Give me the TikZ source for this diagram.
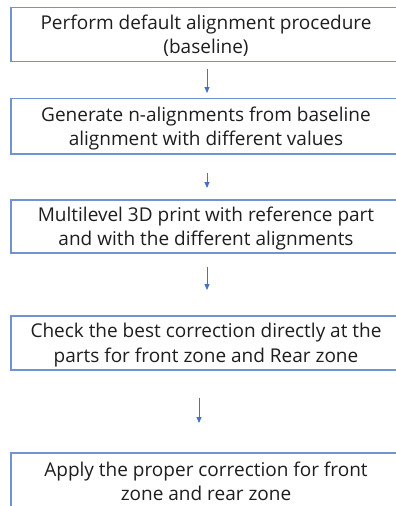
\documentclass[tikz,border=0pt]{standalone}
\usepackage{fontspec}
\setmainfont{Open Sans}
\usetikzlibrary{arrows.meta}
\definecolor{boxblue}{RGB}{114,147,209}
\definecolor{arrblue}{RGB}{68,114,196}
\definecolor{txt}{RGB}{30,30,30}
\tikzset{
  stepbox/.style={draw=boxblue, line width=1.6pt, fill=white, minimum width=390pt,
    inner sep=0pt, align=center, text=txt, font=\fontsize{19}{24.5}\selectfont,
    text height=43.5pt, text depth=5pt},
  flowarrow/.style={draw=arrblue, line width=0.9pt, -{Triangle[length=6pt,width=5pt]}}
}
\begin{document}
\begin{tikzpicture}[x=1pt,y=-1pt]
\useasboundingbox (0,0) rectangle (396,506);
\node[stepbox, minimum height=54pt] (b1) at (206,34.6) {Perform default alignment procedure\\(baseline)};
\node[stepbox, minimum height=55.5pt] (b2) at (206,126.3) {Generate n-alignments from baseline\\alignment with different values};
\node[stepbox, minimum height=53pt] (b3) at (206,226.5) {Multilevel 3D print with reference part\\and with the different alignments};
\node[stepbox, minimum height=54pt] (b4) at (206,343) {Check the best correction directly at the\\parts for front zone and Rear zone};
\node[stepbox, minimum height=57pt] (b5) at (206,481.5) {Apply the proper correction for front\\zone and rear zone};
\coordinate (a1s) at (207,69);  \coordinate (a1e) at (207,93);
\coordinate (a2s) at (207,173); \coordinate (a2e) at (207,188);
\coordinate (a3s) at (207,267); \coordinate (a3e) at (207,290);
\coordinate (a4s) at (199,398); \coordinate (a4e) at (199,423);
\draw[flowarrow] (a1s) -- (a1e);
\draw[flowarrow] (a2s) -- (a2e);
\draw[flowarrow] (a3s) -- (a3e);
\draw[flowarrow] (a4s) -- (a4e);
\end{tikzpicture}
\end{document}
